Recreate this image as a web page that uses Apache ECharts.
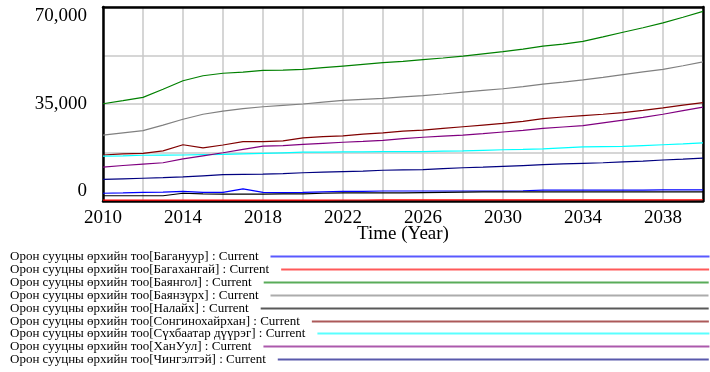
<!DOCTYPE html>
<html>
<head>
<meta charset="utf-8">
<script src="https://cdn.jsdelivr.net/npm/echarts@6/dist/echarts.min.js"></script>
<style>
  html, body { margin: 0; padding: 0; background: #fff; }
  #chart { width: 710px; height: 372px; }
</style>
</head>
<body>
<div id="chart"></div>
<script>
// years on the x axis
const years = [];
for (let y = 2010; y <= 2040; y++) years.push(y);

const districts = ['Багануур', 'Багахангай', 'Баянгол', 'Баянзүрх', 'Налайх',
  'Сонгинохайрхан', 'Сүхбаатар дүүрэг', 'ХанУул', 'Чингэлтэй'];
const colors = ['#0000ff', '#ff0000', '#008000', '#808080', '#000000',
  '#800000', '#00ffff', '#800080', '#000080'];

// one value per year 2010..2040
const baganuur = [2800, 2900, 3100, 3200, 3500, 3100, 3100, 4400, 3100, 3000, 3100, 3300, 3500, 3500, 3600, 3600,
  3600, 3600, 3600, 3600, 3600, 3700, 3900, 3900, 3900, 3900, 3900, 3950, 4000, 4000, 4000];
const bagakhangai = [300, 300, 300, 310, 320, 320, 330, 330, 340, 340, 350, 350, 360, 360, 370, 370,
  380, 380, 390, 390, 400, 400, 410, 410, 420, 420, 430, 430, 440, 440, 450];
const bayangol = [35100, 36200, 37400, 40300, 43400, 45200, 46100, 46500, 47150, 47200, 47500, 48100, 48700, 49300, 49900, 50400,
  51000, 51600, 52300, 53100, 53900, 54800, 55900, 56600, 57600, 59200, 60900, 62500, 64300, 66300, 68400];
const bayanzurkh = [23800, 24600, 25400, 27400, 29500, 31300, 32400, 33300, 34000, 34500, 35000, 35700, 36300, 36700, 37000, 37600,
  38000, 38600, 39300, 39900, 40500, 41300, 42200, 42900, 43700, 44600, 45600, 46600, 47500, 48800, 50200];
const nalaikh = [1900, 1900, 1900, 1900, 2800, 2600, 2500, 2500, 2500, 2600, 2600, 2800, 2900, 2900, 2900, 2900,
  3000, 3100, 3200, 3300, 3300, 3300, 3300, 3300, 3300, 3300, 3300, 3300, 3300, 3300, 3300];
const songino = [16600, 17000, 17200, 18100, 20300, 19200, 20200, 21400, 21400, 21700, 22800, 23200, 23500, 24100, 24600, 25200,
  25600, 26200, 26800, 27400, 28000, 28700, 29700, 30300, 30800, 31300, 31900, 32700, 33600, 34600, 35500];
const sukhbaatar = [16200, 16300, 16500, 16550, 16600, 16700, 16800, 17000, 17200, 17400, 17600, 17650, 17700, 17750, 17800, 17800,
  17800, 18000, 18100, 18300, 18500, 18600, 18800, 19200, 19500, 19600, 19700, 20000, 20300, 20600, 21000];
const khanuul = [12200, 12800, 13300, 13800, 15200, 16300, 17400, 18600, 19800, 20000, 20400, 20800, 21200, 21500, 21900, 22500,
  23000, 23400, 23800, 24300, 24900, 25500, 26200, 26700, 27200, 28200, 29200, 30200, 31300, 32600, 33900];
const chingeltei = [7800, 8000, 8200, 8400, 8700, 9100, 9500, 9600, 9700, 9900, 10200, 10400, 10600, 10800, 11100, 11200,
  11300, 11700, 12000, 12200, 12500, 12800, 13100, 13400, 13600, 13800, 14100, 14400, 14800, 15100, 15500];

const values = [baganuur, bagakhangai, bayangol, bayanzurkh, nalaikh, songino, sukhbaatar, khanuul, chingeltei];
const labels = districts.map(d => 'Орон сууцны өрхийн тоо[' + d + '] : Current');

const serif = '"Liberation Serif", "Times New Roman", serif';

// text width, so each legend line can run to the right edge
const ctx = document.createElement('canvas').getContext('2d');
ctx.font = '13px ' + serif;

let myChart = echarts.init(document.getElementById('chart'));

let series = labels.map((name, i) => ({
  name: name,
  type: 'line',
  symbol: 'none',
  data: years.map((y, j) => [y, values[i][j]]),
  lineStyle: { width: 1.2, color: colors[i] },
  itemStyle: { color: colors[i] },
  emphasis: { disabled: true },
  animation: false
}));

let legends = labels.map((name, i) => {
  let w = ctx.measureText(name).width;
  return {
    data: [name],
    left: 10,
    top: Math.round(250 + 12.9 * i),
    align: 'right',
    padding: 0,
    icon: 'rect',
    itemWidth: Math.max(20, Math.round(709 - 10 - w - 12)),
    itemHeight: 2,
    selectedMode: false,
    itemStyle: { opacity: 0.65 },
    textStyle: { fontFamily: serif, fontSize: 13, color: '#000', padding: [0, 7, 0, 0] }
  };
});

const frame = { show: true, onZero: false, lineStyle: { color: '#000', width: 2.5 } };

let option = {
  animation: false,
  grid: { left: 103, right: 7, top: 7, bottom: 171 },
  legend: legends,
  xAxis: [{
    type: 'value',
    position: 'bottom',
    min: 2010, max: 2040, interval: 2,
    name: 'Time (Year)',
    nameLocation: 'middle',
    nameGap: 24,
    nameMoveOverlap: false,
    nameTextStyle: { fontFamily: serif, fontSize: 19, color: '#000', verticalAlign: 'top' },
    axisLine: frame,
    axisTick: { show: false },
    axisLabel: {
      margin: 8, fontFamily: serif, fontSize: 19, color: '#000',
      formatter: v => ((v - 2010) % 4 === 0 ? String(v) : '')
    },
    splitLine: { show: true, lineStyle: { color: '#c8c8c8', width: 1.5 } }
  }, {
    type: 'value',
    position: 'top',
    min: 2010, max: 2040,
    axisLine: frame,
    axisTick: { show: false },
    axisLabel: { show: false },
    splitLine: { show: false }
  }],
  yAxis: [{
    type: 'value',
    position: 'left',
    min: 0, max: 70000, interval: 17500,
    axisLine: frame,
    axisTick: { show: false },
    axisLabel: {
      margin: 16, fontFamily: serif, fontSize: 19, color: '#000',
      verticalAlignMinLabel: 'bottom',
      verticalAlignMaxLabel: 'top',
      formatter: v => (v % 35000 === 0 ? v.toLocaleString('en-US') : '')
    },
    splitLine: { show: true, lineStyle: { color: '#c8c8c8', width: 1.5 } }
  }, {
    type: 'value',
    position: 'right',
    min: 0, max: 70000,
    axisLine: frame,
    axisTick: { show: false },
    axisLabel: { show: false },
    splitLine: { show: false }
  }],
  series: series
};
myChart.setOption(option);
</script>
</body>
</html>
